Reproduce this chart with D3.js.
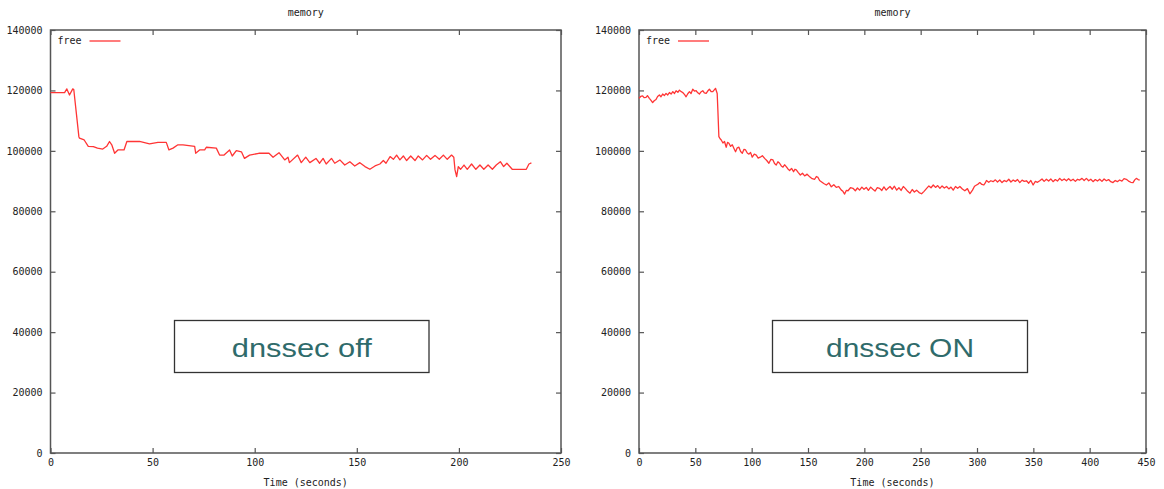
<!DOCTYPE html>
<html><head><meta charset="utf-8">
<script src="https://cdn.jsdelivr.net/npm/d3@7"></script>
<style>
html,body{margin:0;padding:0;background:#fff;}
svg{display:block;}
.tick text{font-family:"DejaVu Sans Mono",monospace;font-size:10px;fill:#222;}
.tick line{stroke:#555;stroke-width:1.2;}
</style></head>
<body>
<svg id="chart" width="1164" height="489"></svg>
<script>
const yTicks = [0,20000,40000,60000,80000,100000,120000,140000];
const leftXTicks = [0,50,100,150,200,250];
const rightXTicks = [0,50,100,150,200,250,300,350,400,450];
const chartTitle = "memory";
const xAxisLabel = "Time (seconds)";
const seriesName = "free";
const leftBoxLabel = "dnssec off";
const rightBoxLabel = "dnssec ON";

const leftTime = [0,6.9,8,9.3,10.9,11.4,13.9,14.2,16.5,18.5,21,23,25.6,27.5,28.9,30,31.4,33,36,37.4,43.6,48.5,52.6,56.7,58,60,62.4,64.9,70.6,71.1,73,75.5,76.3,81.2,82.8,85,87.7,89,91,93.5,95,97.5,102,107,109,111.9,114.7,116.3,117,121,122.8,125,127,130,131.8,133.5,135,137.6,139.2,141.7,144.1,146.6,149,151.5,154,156.4,158.9,161.3,163,164.3,166.3,167.9,169.5,171.1,172.8,174.4,176.4,178.5,180.1,182.2,184.2,186.1,188.3,190.4,192.4,194.3,196.4,197.5,198.1,198.9,199.7,200.8,202.5,204.1,206.2,208.3,210.3,212.2,214.3,216.4,218.3,220.3,221.9,223.5,226.1,233,234.3,235.5];
const leftFree = [119.3,119.3,120.5,118.5,120.5,120.3,104.7,104.2,103.6,101.5,101.4,100.9,100.6,101.5,103.1,102,99.2,100.3,100.3,103.1,103.1,102.3,102.8,102.8,100.3,100.9,102.0,102.0,101.5,99.2,100.3,100.3,101.2,100.9,98.6,98.6,100.3,98.3,100.1,99.7,97.5,98.6,99.2,99.2,97.9,99.4,97.0,97.9,96.1,98.6,96.1,97.9,96.1,97.5,95.9,97.5,95.65,97.5,95.9,97.0,95.3,96.4,95.0,96.1,94.8,93.9,95.0,95.65,96.8,95.9,98.1,97.2,98.6,97.0,98.3,96.8,98.3,96.8,98.3,97.0,98.5,97.2,98.5,97.2,98.6,97.2,98.6,97.9,93.7,91.5,94.8,93.9,95.3,93.9,95.65,93.9,95.3,93.9,95.3,93.9,95.3,96.4,94.8,95.9,93.9,93.9,95.65,96.0].map(v => v * 1000);

const rightTime = [0,1.5,3.2,4.5,6.2,7.5,9.2,10.5,12.1,13.5,15.1,16.5,18.1,19.5,21,22.5,24,25.5,27,28.5,30,31.5,32.9,34.5,35.9,37.5,38.8,40.5,41.8,43.3,44.8,46.2,47.7,49.2,50.7,52.2,53.6,55,56.6,58,59.6,61,62.5,64,65.5,66.8,67.9,69.4,70,70.9,72,73,74.5,75.9,77.4,78.6,79.8,81.3,82.8,84.3,85.7,87.2,88.7,90.2,91.7,93.2,94.6,96.1,97.6,99,100.5,102.3,104.1,105.8,107.6,109.5,111.5,113.4,115.3,117.1,118.9,120.3,121.8,123.3,124.8,126.3,127.8,129.2,130.7,132.2,133.7,135.4,137.2,138.4,139.6,141.4,143.2,145.1,147,149.2,151.5,153.7,155.9,157.4,158.9,160.3,161.8,164,166.3,168.5,170.7,172.9,175.1,177.3,179.6,181,182.5,184,185.5,187.7,189.9,192,193.9,195.8,197.8,199.7,201.7,203.6,205.6,207.6,209.5,211.5,213.5,215.5,217.4,219.4,221,222.8,224.8,226.7,228.7,230.7,232.6,234.6,236.5,238.5,240.5,242.5,244.4,246.4,248.6,250.8,253,255.3,257.3,259.2,261.2,263.2,265.1,267.1,269,271,273,275,276.9,278.9,280.9,282.8,284.8,287,289.2,291.5,293.7,296,297.8,299.6,301,302.5,304.3,306.1,307.2,308.4,310.4,312.3,314.3,316.3,318.2,320.2,322.2,324.2,326.2,328.2,330.1,332.1,334,336,338,340,341.9,343.9,345.9,347.8,349.8,351.8,353.7,355.7,357.7,359.6,361.6,363.6,365.5,367.5,369.5,371.4,373.4,375.4,377.4,379.4,381.3,383.3,385.3,387.3,389.2,391.2,393.2,395.1,397.1,399.1,401,403,405,406.9,408.9,410.9,412.8,414.8,416.8,418.7,420.7,422.7,424.6,426.6,428.6,430.5,432.5,434.5,436.5,438.5,440,441.4,443,444.4];
const rightFree = [117.4,118.0,118.2,117.6,117.7,118.3,117.4,116.8,116.0,116.6,117.0,118.0,118.5,117.9,118.8,118.3,119.0,118.5,119.3,118.8,119.6,119.0,119.9,119.4,120.1,119.6,119.3,118.6,117.9,118.9,119.6,119.0,120.4,119.8,119.9,119.2,118.8,119.5,119.9,119.2,119.0,119.8,120.4,119.6,119.6,120.2,120.7,119.0,113.5,104.7,104.0,103.6,102.6,103.1,101.2,102.8,102.5,101.5,102.0,100.8,99.7,101.0,101.2,99.8,99.2,100.5,100.3,99.3,98.9,99.5,97.9,98.9,98.6,97.6,97.9,98.4,97.5,96.8,95.9,97.2,97.0,95.8,95.3,96.4,95.9,95.0,94.6,95.4,94.8,94.0,93.5,94.2,93.1,93.9,93.7,92.8,92.0,92.6,91.7,92.3,91.4,90.8,90.6,91.5,91.2,90.2,89.8,89.2,88.7,89.4,88.1,88.8,87.9,88.2,87.0,86.6,85.7,86.9,86.8,87.8,87.6,86.8,87.7,87.0,88.0,87.3,87.9,86.9,88.0,87.3,86.7,87.8,87.6,86.9,88.1,87.0,87.6,88.2,87.3,88.3,87.0,87.8,86.9,88.2,87.5,86.6,86.0,87.2,86.4,87.0,86.2,85.8,86.6,87.6,88.4,87.8,88.7,87.9,88.5,87.6,88.4,87.7,88.2,87.4,88.0,87.0,88.2,87.6,88.2,87.4,86.8,87.5,85.8,87.0,88.3,88.7,89.0,89.5,88.9,88.7,89.3,90.2,89.6,90.1,89.8,90.4,89.7,90.35,89.5,90.2,89.8,90.6,89.7,90.35,89.9,90.5,89.5,90.3,89.9,90.1,89.3,90.2,88.7,89.9,89.6,90.1,90.7,89.9,90.6,90.0,90.7,89.8,90.5,90.0,90.9,90.2,90.7,90.1,90.8,90.1,90.6,89.9,90.6,90.35,90.9,90.2,90.9,90.1,90.6,89.8,90.5,90.0,90.6,89.9,90.7,90.1,90.5,89.8,89.5,90.2,89.8,90.35,90.0,90.8,90.6,90.0,89.6,89.5,90.4,90.9,90.5,90.35].map(v => v * 1000);

const svg = d3.select("#chart");
const lineColor = "#ff3535";

function panel(opts) {
  const {x0, x1, y0, y1, xMax, xTicks, time, values, box} = opts;
  const g = svg.append("g");
  const x = d3.scaleLinear().domain([0, xMax]).range([x0, x1]);
  const y = d3.scaleLinear().domain([0, 140000]).range([y1, y0]);
  const tk = 5;

  const ax = [
    g.append("g").attr("transform", `translate(0,${y1})`)
      .call(d3.axisBottom(x).tickValues(xTicks).tickSize(-tk).tickPadding(6).tickFormat(d3.format("d"))),
    g.append("g").attr("transform", `translate(0,${y0})`)
      .call(d3.axisTop(x).tickValues(xTicks).tickSize(-tk).tickFormat("")),
    g.append("g").attr("transform", `translate(${x0},0)`)
      .call(d3.axisLeft(y).tickValues(yTicks).tickSize(-tk).tickPadding(8).tickFormat(d3.format("d"))),
    g.append("g").attr("transform", `translate(${x1},0)`)
      .call(d3.axisRight(y).tickValues(yTicks).tickSize(-tk).tickFormat(""))
  ];
  ax.forEach(a => a.select(".domain").remove());

  g.append("rect").attr("x", x0).attr("y", y0).attr("width", x1 - x0).attr("height", y1 - y0)
    .attr("fill", "none").attr("stroke", "#555").attr("stroke-width", 1.5);

  const pts = time.map((t, i) => [t, values[i]]);
  g.append("path").datum(pts)
    .attr("fill", "none").attr("stroke", lineColor).attr("stroke-width", 1.3)
    .attr("stroke-linejoin", "round")
    .attr("d", d3.line().x(d => x(d[0])).y(d => y(d[1])));

  const cx = (x0 + x1) / 2;
  g.append("text").attr("x", cx).attr("y", 16).attr("text-anchor", "middle")
    .style("font-family", "DejaVu Sans Mono, monospace").style("font-size", "10px").attr("fill", "#222")
    .text(chartTitle);
  g.append("text").attr("x", cx).attr("y", 486).attr("text-anchor", "middle")
    .style("font-family", "DejaVu Sans Mono, monospace").style("font-size", "10px").attr("fill", "#222")
    .text(xAxisLabel);

  g.append("text").attr("x", x0 + 7).attr("y", y0 + 14)
    .style("font-family", "DejaVu Sans Mono, monospace").style("font-size", "10px").attr("fill", "#222")
    .text(seriesName);
  g.append("line").attr("x1", x0 + 39).attr("x2", x0 + 70).attr("y1", y0 + 11).attr("y2", y0 + 11)
    .attr("stroke", lineColor).attr("stroke-width", 1.3);

  g.append("rect").attr("x", box.x).attr("y", box.y).attr("width", box.w).attr("height", box.h)
    .attr("fill", "#fff").attr("stroke", "#333").attr("stroke-width", 1.3);
  g.append("text").attr("x", box.x + box.w / 2).attr("y", box.y + 36.5).attr("text-anchor", "middle")
    .style("font-family", "Liberation Sans, Arial, sans-serif").style("font-size", "26px")
    .attr("fill", "#2f6b6b").attr("textLength", box.tl).attr("lengthAdjust", "spacingAndGlyphs")
    .text(box.label);
}

panel({x0: 50.5, x1: 561, y0: 30, y1: 453, xMax: 250, xTicks: leftXTicks,
  time: leftTime, values: leftFree,
  box: {x: 174.5, y: 320.5, w: 254.5, h: 52, label: leftBoxLabel, tl: 140}});
panel({x0: 639, x1: 1146, y0: 30, y1: 453, xMax: 450, xTicks: rightXTicks,
  time: rightTime, values: rightFree,
  box: {x: 772.5, y: 320.5, w: 255, h: 52, label: rightBoxLabel, tl: 148}});
</script>
</body></html>
